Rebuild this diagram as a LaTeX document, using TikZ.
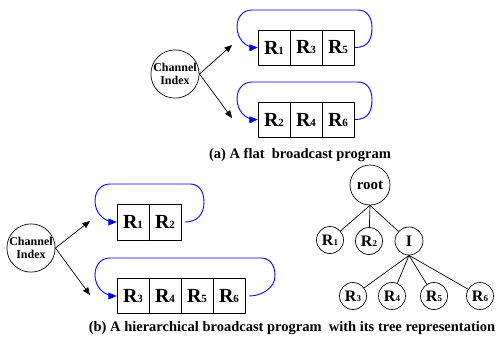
\documentclass[tikz,border=0pt]{standalone}
\usepackage{fontspec}
\setmainfont{Liberation Serif}
\usetikzlibrary{arrows}
\newcommand{\cellR}[1]{{\fontsize{20}{20}\selectfont R}{\fontsize{11}{11}\selectfont #1}}
\newcommand{\treeR}[1]{{\fontsize{16}{16}\selectfont R}{\fontsize{9}{9}\selectfont #1}}
\begin{document}
\begin{tikzpicture}[line cap=round,line join=round,>=triangle 45,x=1pt,y=-1pt,
  cell/.style={draw,line width=0.7pt,minimum width=32pt,minimum height=35pt,inner sep=0pt,font=\bfseries},
  chan/.style={draw,circle,line width=0.7pt,minimum size=44pt,inner sep=0pt,align=center,font=\fontsize{12}{13}\selectfont\bfseries},
  tnode/.style={draw,circle,line width=0.7pt,minimum size=27pt,inner sep=0pt,font=\bfseries},
  loop/.style={draw=blue,line width=0.9pt,->},
  caption/.style={font=\fontsize{14.5}{14.5}\selectfont\bfseries}]
\useasboundingbox (0,0) rectangle (502,341);
\node[chan] (chA) at (175,74) {Channel\\Index};
\coordinate (pa) at (232,45);
\coordinate (pb) at (232,118);
\draw [->,line width=0.7pt] (chA.east) -- (pa);
\draw [->,line width=0.7pt] (chA.east) -- (pb);
\node[cell] (p1) at (274,47.5) {\cellR{1}};
\node[cell] (p3) at (306,47.5) {\cellR{3}};
\node[cell] (p5) at (338,47.5) {\cellR{5}};
\node[cell] (p2) at (274,119.5) {\cellR{2}};
\node[cell] (p4) at (306,119.5) {\cellR{4}};
\node[cell] (p6) at (338,119.5) {\cellR{6}};
\draw [loop] ([xshift=1pt]p5.east) .. controls +(12,0) and (372,40) .. (372,28) .. controls (372,16) and (366,10) .. (358,10) -- (252,10) .. controls (243,10) and (237,17) .. (237,27) .. controls (237,38) and (245,48) .. (p1.west);
\draw [loop] ([xshift=1pt]p6.east) .. controls +(12,0) and (372,112) .. (372,100) .. controls (372,88) and (366,82) .. (358,82) -- (252,82) .. controls (243,82) and (237,89) .. (237,99) .. controls (237,110) and (245,120) .. (p2.west);
\node[caption] (capa) at (300,155) {(a) A flat\ \ broadcast program};
\node[chan,minimum size=46pt] (chB) at (31,248) {Channel\\Index};
\coordinate (qa) at (90,221);
\coordinate (qb) at (90,295);
\draw [->,line width=0.7pt] (chB.east) -- (qa);
\draw [->,line width=0.7pt] (chB.east) -- (qb);
\node[cell,minimum height=36pt] (q1) at (133,222) {\cellR{1}};
\node[cell,minimum height=36pt] (q2) at (165,222) {\cellR{2}};
\node[cell] (q3) at (133,296) {\cellR{3}};
\node[cell] (q4) at (165,296) {\cellR{4}};
\node[cell] (q5) at (197,296) {\cellR{5}};
\node[cell] (q6) at (229,296) {\cellR{6}};
\draw [loop] ([xshift=4pt]q2.east) .. controls +(12,0) and (204,214) .. (204,202) .. controls (204,190) and (198,184) .. (190,184) -- (110,184) .. controls (101,184) and (95,191) .. (95,201) .. controls (95,212) and (103,222) .. (q1.west);
\draw [loop] ([xshift=4pt]q6.east) .. controls +(12,0) and (275,288) .. (275,276) .. controls (275,264) and (269,258) .. (261,258) -- (110,258) .. controls (101,258) and (95,265) .. (95,275) .. controls (95,286) and (103,296) .. (q3.west);
\node[tnode,minimum size=40pt,font=\fontsize{15}{15}\selectfont\bfseries] (root) at (370,185) {root};
\node[tnode] (t1) at (330,240) {\treeR{1}};
\node[tnode] (t2) at (369,241) {\treeR{2}};
\node[tnode,minimum size=28pt,font=\fontsize{16}{16}\selectfont\bfseries] (ti) at (409,241) {I};
\node[tnode] (t3) at (353,296) {\treeR{3}};
\node[tnode] (t4) at (392,296) {\treeR{4}};
\node[tnode] (t5) at (434,296) {\treeR{5}};
\node[tnode] (t6) at (480,296) {\treeR{6}};
\draw [line width=0.7pt] (root.south) -- (t1);
\draw [line width=0.7pt] (root.south) -- (t2);
\draw [line width=0.7pt] (root.south) -- (ti);
\draw [line width=0.7pt] (ti.south) -- (t3);
\draw [line width=0.7pt] (ti.south) -- (t4);
\draw [line width=0.7pt] (ti.south) -- (t5);
\draw [line width=0.7pt] (ti.south) -- (t6);
\node[caption] (capb) at (292,328) {(b) A hierarchical broadcast program\ \ with its tree representation};
\end{tikzpicture}
\end{document}
